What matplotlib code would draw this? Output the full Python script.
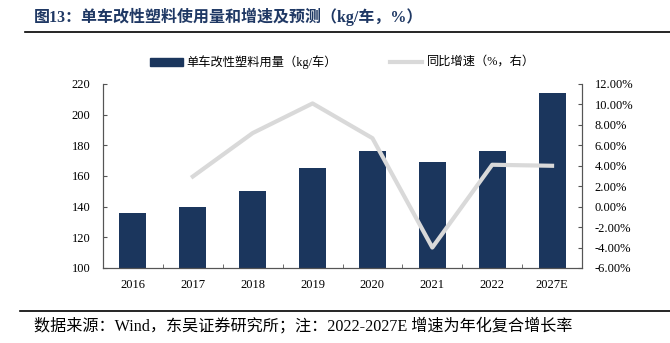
import numpy as np
import matplotlib.pyplot as plt
from matplotlib.ticker import FuncFormatter
from matplotlib.patches import Rectangle

plt.rcParams['font.family'] = ['Liberation Serif', 'Noto Sans CJK SC', 'DejaVu Sans']

years = ["2016", "2017", "2018", "2019", "2020", "2021", "2022", "2027E"]
usage = [136, 140, 150, 165, 176, 169, 176, 214]
growth_years = ["2017", "2018", "2019", "2020", "2021", "2022", "2027E"]
growth = [2.95, 7.2, 10.1, 6.7, -4.0, 4.1, 4.0]

title = "图13：单车改性塑料使用量和增速及预测（kg/车，%）"
source = "数据来源：Wind，东吴证券研究所；注：2022-2027E 增速为年化复合增长率"
bar_label = "单车改性塑料用量（kg/车）"
line_label = "同比增速（%，右）"

bar_color = "#1B365D"
line_color = "#D9D9D9"
title_color = "#1F3864"
axis_color = "#555555"

W, H = 670, 343
fig = plt.figure(figsize=(6.7, 3.43), dpi=100)
ax = fig.add_axes([103 / W, 1 - 268 / H, 479 / W, 184 / H])
ax2 = ax.twinx()

x = np.arange(len(years))
ax.bar(x, usage, width=0.45, color=bar_color, zorder=2)
gx = [years.index(y) for y in growth_years]
ax2.plot(gx, growth, color=line_color, lw=3, zorder=3)

ax.set_xlim(-0.5, len(years) - 0.5)
ax.set_ylim(100, 220)
ax.set_yticks(np.arange(100, 221, 20))
ax2.set_ylim(-6, 12)
ax2.set_yticks(np.arange(-6, 12.1, 2))
ax2.yaxis.set_major_formatter(FuncFormatter(lambda v, p: "%.2f%%" % v))

ax.set_xticks(x)
ax.set_xticklabels(years)
ax.set_xticks(np.arange(-0.5, len(years), 1), minor=True)
ax.tick_params(axis='x', which='major', length=0, pad=8, labelsize=9)
ax.tick_params(axis='x', which='minor', length=3, direction='in', color=axis_color)
ax.tick_params(axis='y', length=3, direction='in', color=axis_color, labelsize=9, pad=9)
ax2.tick_params(axis='y', length=3, direction='in', color=axis_color, labelsize=9, pad=9)

for a in (ax, ax2):
    a.spines['top'].set_visible(False)
    for s in ('left', 'right', 'bottom'):
        a.spines[s].set_color(axis_color)
        a.spines[s].set_linewidth(0.8)

# legend drawn by hand to match placement
ly = 1 - 62 / H
fig.add_artist(Rectangle((150 / W, ly - 3.5 / H), 33 / W, 7 / H,
                         transform=fig.transFigure, color=bar_color))
fig.text(186 / W, ly, bar_label, fontsize=8.8, va='center', ha='left')
fig.add_artist(plt.Line2D([390 / W, 422 / W], [ly, ly], color=line_color, lw=3))
fig.text(427 / W, ly, line_label, fontsize=8.8, va='center', ha='left')

# title and source
fig.text(34 / W, 1 - 17 / H, title, fontsize=11.5, fontweight='bold',
         color=title_color, va='center', ha='left')
fig.add_artist(plt.Line2D([25 / W, 1], [1 - 32 / H] * 2, color='black', lw=1.2))
fig.add_artist(plt.Line2D([20 / W, 1], [1 - 311 / H] * 2, color='black', lw=1.2))
fig.text(34 / W, 1 - 326 / H, source, fontsize=11.6, va='center', ha='left')

fig.savefig("out.png", dpi=100)
